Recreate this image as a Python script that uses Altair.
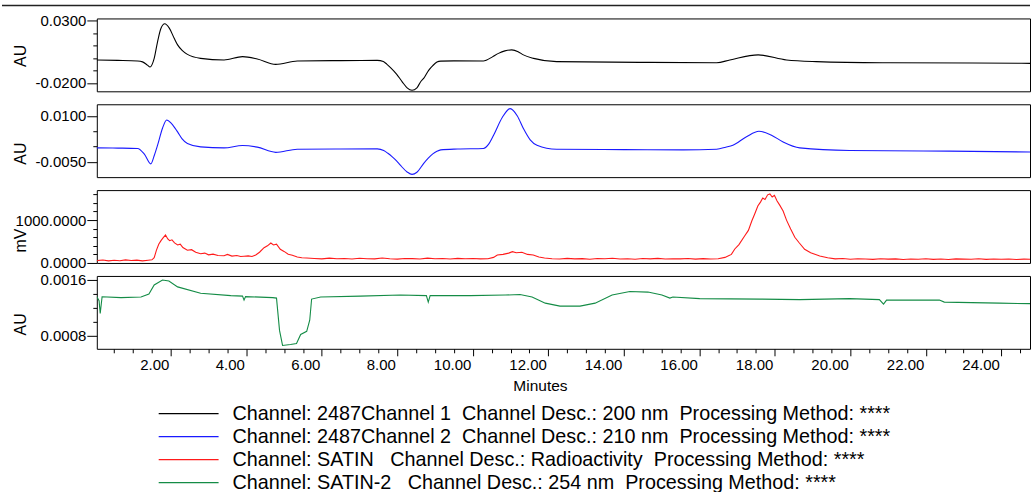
import altair as alt
import pandas as pd

# ---------------- data ----------------
# x axis (minutes)
x_domain = [0.04, 24.76]
x_ticks = [0.5, 1.0, 1.5, 2.0, 2.5, 3.0, 3.5, 4.0, 4.5, 5.0, 5.5, 6.0, 6.5, 7.0, 7.5,
           8.0, 8.5, 9.0, 9.5, 10.0, 10.5, 11.0, 11.5, 12.0, 12.5, 13.0, 13.5, 14.0,
           14.5, 15.0, 15.5, 16.0, 16.5, 17.0, 17.5, 18.0, 18.5, 19.0, 19.5, 20.0,
           20.5, 21.0, 21.5, 22.0, 22.5, 23.0, 23.5, 24.0, 24.5]
x_labeled = [2.0, 4.0, 6.0, 8.0, 10.0, 12.0, 14.0, 16.0, 18.0, 20.0, 22.0, 24.0]

# Channel 1 (200 nm), AU
t1 = [0.04, 0.6, 1.12, 1.25, 1.38, 1.45, 1.56, 1.65, 1.74, 1.84, 1.96, 2.09, 2.18,
      2.30, 2.44, 2.79, 3.41, 3.90, 4.29, 4.78, 5.35, 6.5, 7.47, 7.63, 7.72, 7.82,
      7.98, 8.13, 8.26, 8.39, 8.52, 8.61, 8.72, 8.83, 8.94, 9.05, 9.15, 9.5, 10.28,
      10.37, 10.52, 10.68, 10.85, 11.03, 11.2, 11.34, 11.61, 12.22,
      14.43, 16.46, 16.81, 17.56, 18.31, 19.10, 20.85, 23.23, 24.76]
v1 = [-0.0017, -0.0020, -0.0025, -0.0032, -0.0058, -0.0073, -0.0004, 0.0131, 0.0238,
      0.0273, 0.0238, 0.0157, 0.0104, 0.0060, 0.0028, -0.0004, -0.0017, 0.0010,
      -0.0009, -0.0052, -0.0025, -0.0022, -0.0020, -0.0030, -0.0050, -0.0078,
      -0.0130, -0.0192, -0.0240, -0.0259, -0.0240, -0.0195, -0.0155, -0.0100,
      -0.0062, -0.0034, -0.0026, -0.0024, -0.0025, -0.0017, 0.0008, 0.0036, 0.0056,
      0.0064, 0.0050, 0.0024, -0.0004, -0.0030, -0.0036, -0.0039, -0.0017, 0.0024,
      -0.0017, -0.0030, -0.0039, -0.0041, -0.0044]

# Channel 2 (210 nm), AU
t2 = [0.04, 0.6, 1.12, 1.30, 1.47, 1.56, 1.65, 1.78, 1.89, 2.02, 2.18, 2.30, 2.44,
      2.79, 3.41, 3.90, 4.29, 4.78, 5.35, 6.5, 7.47, 7.64, 7.75, 7.86, 7.98, 8.08,
      8.26, 8.39, 8.52, 8.70, 8.82, 8.94, 9.05, 9.15, 9.6, 10.28, 10.42, 10.55, 10.78,
      10.99, 11.18, 11.34, 11.52, 11.70, 12.22, 14.0, 15.57, 16.46, 16.70, 16.89,
      17.25, 17.58, 17.90, 18.22, 18.66, 19.98, 22.62, 24.76]
v2 = [-0.00043, -0.0005, -0.00063, -0.0025, -0.00565, -0.0030, 0.00045, 0.0060,
      0.0087, 0.0075, 0.00478, 0.0025, 0.0010, -0.00011, -0.00043, 0.00035, -0.0002,
      -0.0019, -0.00086, -0.0008, -0.00076, -0.00128, -0.0022, -0.0033, -0.0047,
      -0.0061, -0.0083, -0.0091, -0.0084, -0.0055, -0.0038, -0.0024, -0.00155,
      -0.0011, -0.0008, -0.00063, 0.0008, 0.0037, 0.0095, 0.0124, 0.0100, 0.0059,
      0.0022, 0.00045, -0.00086, -0.0010, -0.0011, -0.00086, -0.0002, 0.00045, 0.0032,
      0.0050, 0.0038, 0.0015, -0.00043, -0.0013, -0.0015, -0.0018]

# SATIN (radioactivity), mV
t3 = [0.04, 0.2, 0.35, 0.5, 0.65, 0.8, 0.95, 1.1, 1.25, 1.4, 1.5,
      1.56, 1.62, 1.68, 1.74, 1.80, 1.86, 1.92, 1.97, 2.03, 2.10, 2.18, 2.25, 2.32,
      2.44, 2.55, 2.66, 2.79,
      2.9, 3.0, 3.12, 3.25, 3.41, 3.5, 3.62, 3.75, 3.85, 3.94,
      4.05, 4.15, 4.25, 4.35, 4.47, 4.56, 4.65, 4.72, 4.80, 4.90, 5.0, 5.11, 5.22,
      5.35, 5.47, 5.6,
      5.8, 6.0, 6.2, 6.4, 6.6, 6.8, 7.0, 7.2, 7.4, 7.6, 7.8, 8.0, 8.2, 8.4, 8.6, 8.8,
      9.0, 9.2, 9.4, 9.6, 9.8, 10.0, 10.2, 10.4,
      10.55, 10.65, 10.8, 10.95, 11.05, 11.15, 11.3, 11.45, 11.6, 11.75, 11.9,
      12.1, 12.3, 12.5, 12.7, 12.9, 13.1, 13.3, 13.5, 13.7, 13.9, 14.1, 14.3, 14.5,
      14.7, 14.9, 15.1, 15.3, 15.5, 15.7, 15.9, 16.1, 16.3, 16.5,
      16.68, 16.85, 16.94, 17.05, 17.20, 17.30, 17.39, 17.47, 17.55, 17.62, 17.68,
      17.74, 17.81, 17.87, 17.93, 17.99, 18.06, 18.13, 18.22, 18.31, 18.42, 18.53,
      18.65, 18.79, 18.95, 19.19,
      19.4, 19.6, 19.8, 20.0, 20.2, 20.4, 20.6, 20.8, 21.0, 21.2, 21.4, 21.6, 21.8,
      22.0, 22.2, 22.4, 22.6, 22.8, 23.0, 23.2, 23.4, 23.6, 23.8, 24.0, 24.2, 24.4,
      24.6, 24.76]
v3 = [55, 68, 48, 62, 52, 72, 58, 66, 50, 64, 74,
      123, 300, 436, 520, 590, 652, 560, 520, 540, 470, 419, 440, 360, 296, 310, 250, 217,
      230, 190, 205, 175, 170, 200, 160, 175, 150, 156,
      165, 150, 186, 250, 356, 400, 466, 420, 440, 319, 270, 203, 180, 140, 123, 115,
      105, 95, 112, 98, 104, 92, 110, 100, 96, 115, 99, 90, 106, 101, 94, 112, 97,
      103, 93, 108, 99, 104, 96, 100,
      130, 186, 200, 230, 263, 240, 250, 200, 186, 140, 115,
      100, 92, 108, 95, 102, 88, 104, 97, 110, 93, 99, 86, 103, 95, 107, 91, 100, 96,
      105, 90, 101, 94, 98,
      130, 200, 326, 430, 629, 760, 979, 1150, 1328, 1420, 1515, 1480, 1590, 1610,
      1540, 1580, 1445, 1350, 1212, 1000, 792, 600, 466, 320, 240, 163,
      120, 95, 105, 88, 98, 92, 84, 100, 90, 96, 82, 94, 88, 99, 85, 92, 80, 95, 89,
      86, 97, 83, 91, 87, 94, 82, 90, 88]

# SATIN-2 (254 nm), AU
t4 = [0.04, 0.10, 0.13, 0.18, 0.68, 1.21, 1.42, 1.56, 1.78, 1.95, 2.18, 2.79, 3.59,
      3.90, 3.94, 3.98, 4.70, 4.80, 4.88, 4.96, 5.17, 5.33, 5.44, 5.60, 5.68, 5.73,
      5.97, 7.02, 8.08, 8.77, 8.82, 8.87, 9.93, 10.86, 11.25, 11.57, 11.92, 12.31,
      12.84, 13.24, 13.69, 14.16, 14.64, 15.01, 15.22, 15.30, 16.01, 17.60, 18.66,
      19.98, 20.77, 20.88, 20.96, 22.36, 22.49, 23.95, 24.76]
v4 = [0.001357, 0.001300, 0.001115, 0.001357, 0.001345, 0.001353, 0.001396, 0.001527,
      0.001600, 0.001585, 0.001500, 0.001407, 0.001374, 0.001367, 0.001309, 0.001360,
      0.001345, 0.001338, 0.000872, 0.000654, 0.000669, 0.000683, 0.000814, 0.000858,
      0.001018, 0.001324, 0.001353, 0.001367, 0.001382, 0.001374, 0.001280, 0.001374,
      0.001374, 0.001382, 0.001389, 0.001353, 0.001265, 0.001222, 0.001222, 0.001265,
      0.001382, 0.001433, 0.001425, 0.001382, 0.001338, 0.001353, 0.001331, 0.001324,
      0.001316, 0.001331, 0.001316, 0.001251, 0.001309, 0.001309, 0.001280, 0.001265,
      0.001258]

# y axes
y1_domain = [-0.0268, 0.0316]
y1_ticks = [-0.02, -0.01, 0.0, 0.01, 0.02, 0.03]
y1_labeled = [-0.02, 0.03]
y2_domain = [-0.0100, 0.01382]
y2_ticks = [-0.005, 0.0, 0.005, 0.01]
y2_labeled = [-0.005, 0.01]
y3_domain = [0, 1700]
y3_ticks = [0, 200, 400, 600, 800, 1000, 1200, 1400, 1600]
y3_labeled = [0, 1000]
y4_domain = [0.000606, 0.001658]
y4_ticks = [0.0008, 0.0010, 0.0012, 0.0014, 0.0016]
y4_labeled = [0.0008, 0.0016]

colors = ["#000000", "#1a1aff", "#ff1a1a", "#148c46"]
units = ["AU", "AU", "mV", "AU"]
legend_labels = [
    "Channel: 2487Channel 1 \u00a0Channel Desc.: 200 nm \u00a0Processing Method: ****",
    "Channel: 2487Channel 2 \u00a0Channel Desc.: 210 nm \u00a0Processing Method: ****",
    "Channel: SATIN \u00a0 Channel Desc.: Radioactivity \u00a0Processing Method: ****",
    "Channel: SATIN-2 \u00a0 Channel Desc.: 254 nm \u00a0Processing Method: ****",
]

FONT = "Liberation Sans"
W = 935
H = 73


def arr(vals):
    return "[" + ",".join(repr(float(v)) for v in vals) + "]"


def panel(t, v, color, ydom, yticks, ylab, title, title_y, show_x, interp, extra=None):
    df = pd.DataFrame({"t": t, "v": v})
    lab = arr(ylab)
    yaxis = alt.Axis(
        values=yticks, title=title, titleX=-71, titleY=title_y, titleAngle=270,
        titleAlign="center", titleBaseline="alphabetic", titleFontSize=16,
        titleFontWeight="normal", titleFont=FONT, titleColor="black",
        labelExpr=f"indexof({lab}, datum.value) >= 0 ? (datum.value < 0 ? '-' : '') + format(abs(datum.value), '.4f') : ''",
        tickSize={"condition": {"test": f"indexof({lab}, datum.value) >= 0", "value": 10}, "value": 4},
        labelPadding=1, labelOverlap=False, labelFlush=False, labelFontSize=15,
        labelFont=FONT, labelColor="black", tickColor="black", domain=False, grid=False,
    )
    scale_x = alt.Scale(domain=x_domain, nice=False, zero=False)
    if show_x:
        xl = arr(x_labeled)
        xaxis = alt.Axis(
            values=x_ticks, title="Minutes", titleFontSize=15.5, titleFont=FONT,
            titleFontWeight="normal", titleColor="black", titleX=444, titleY=42,
            titleAlign="center", titleBaseline="alphabetic",
            labelExpr=f"indexof({xl}, datum.value) >= 0 ? format(datum.value, '.2f') : ''",
            tickSize={"condition": {"test": f"indexof({xl}, datum.value) >= 0", "value": 7}, "value": 4},
            labelAlign="right", labelOffset=-2, labelPadding=2, labelFontSize=15,
            labelFont=FONT, labelColor="black", tickColor="black", labelOverlap=False,
            labelFlush=False, domain=False, grid=False,
        )
        xenc = alt.X("t:Q", scale=scale_x, axis=xaxis)
    else:
        xenc = alt.X("t:Q", scale=scale_x, axis=None)
    line = alt.Chart(df).mark_line(color=color, strokeWidth=1.1, interpolate=interp, clip=True).encode(
        x=xenc,
        y=alt.Y("v:Q", scale=alt.Scale(domain=ydom, nice=False, zero=False), axis=yaxis),
    )
    layers = [line]
    if extra is not None:
        layers.append(extra)
    return alt.layer(*layers).properties(width=W, height=H)


top_rule = alt.Chart(alt.Data(values=[{"a": 1}])).mark_rule(color="#222222", strokeWidth=1.5).encode(
    x=alt.value(-95), x2=alt.value(W), y=alt.value(-13)
)

p1 = panel(t1, v1, colors[0], y1_domain, y1_ticks, y1_labeled, units[0], 37, False, "monotone", top_rule)
p2 = panel(t2, v2, colors[1], y2_domain, y2_ticks, y2_labeled, units[1], 49, False, "monotone")
p3 = panel(t3, v3, colors[2], y3_domain, y3_ticks, y3_labeled, units[2], 50, False, "linear")
p4 = panel(t4, v4, colors[3], y4_domain, y4_ticks, y4_labeled, units[3], 48, True, "linear")

leg_df = pd.DataFrame({"row": [0, 1, 2, 3], "label": legend_labels, "color": colors})
leg_y = alt.Y("row:Q", scale=alt.Scale(domain=[-2.261, 3.348], reverse=True, nice=False, zero=False), axis=None)
leg_rules = alt.Chart(leg_df).mark_rule(strokeWidth=1.3).encode(
    x=alt.value(62), x2=alt.value(122), y=leg_y, color=alt.Color("color:N", scale=None)
)
leg_text = alt.Chart(leg_df).mark_text(align="left", baseline="middle", fontSize=19.8, font=FONT, color="black").encode(
    x=alt.value(136), y=leg_y, text="label:N"
)
legend = alt.layer(leg_rules, leg_text).properties(width=W, height=129, view=alt.ViewBackground(stroke="transparent"))

chart = alt.vconcat(p1, p2, p3, p4, legend, spacing=13, bounds="flush").properties(
    padding={"left": 0, "top": 3, "right": 0, "bottom": 0}
).configure_view(stroke="black", strokeWidth=1)

chart.save("out.html", embed_options={"renderer": "svg", "actions": False})
